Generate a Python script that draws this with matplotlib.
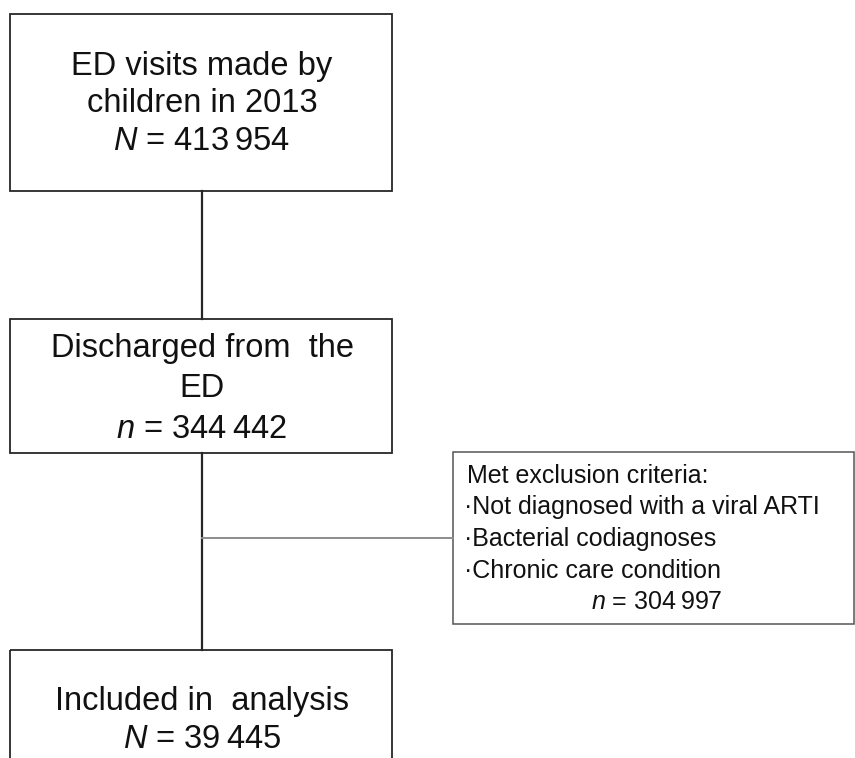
import matplotlib.pyplot as plt
from matplotlib.patches import Rectangle

plt.rcParams['font.family'] = ['Liberation Sans', 'DejaVu Sans']
plt.rcParams['mathtext.fontset'] = 'custom'
plt.rcParams['mathtext.it'] = 'Liberation Sans:italic'
plt.rcParams['mathtext.rm'] = 'Liberation Sans'

# flow steps
step_titles = [["ED visits made by", "children in 2013"],
               ["Discharged from  the", "ED"],
               ["Included in  analysis"]]
step_symbols = ["N", "n", "N"]
step_counts = ["413\u2009954", "344\u2009442", "39\u2009445"]

excl_title = "Met exclusion criteria:"
excl_items = ["Not diagnosed with a viral ARTI", "Bacterial codiagnoses", "Chronic care condition"]
excl_symbol = "n"
excl_count = "304\u2009997"

fig = plt.figure(figsize=(8.55, 7.58), dpi=100)
ax = fig.add_axes([0, 0, 1, 1])
ax.set_xlim(0, 855)
ax.set_ylim(758, 0)
ax.axis('off')

# box geometry (top, bottom) in pixels and text baselines
boxes = [(14, 191), (319, 453), (650, 800)]
baselines = [[75, 112, 150], [357, 397, 438], [710, 748]]
bx0, bx1 = 10, 392
cx = 202
edge = '#262626'

for (top, bot), ys, title, sym, cnt in zip(boxes, baselines, step_titles, step_symbols, step_counts):
    ax.add_patch(Rectangle((bx0, top), bx1 - bx0, bot - top, fill=False, ec=edge, lw=1.3))
    lines = title + [r"$\mathit{%s}$ = %s" % (sym, cnt)]
    for y, s in zip(ys, lines):
        ax.text(cx, y, s, ha='center', va='baseline', fontsize=23.5, color='#111111')

# connectors
ax.plot([cx, cx], [191, 319], color=edge, lw=1.6)
ax.plot([cx, cx], [453, 650], color=edge, lw=1.6)
ax.plot([cx, 453], [538, 538], color='#8c8c8c', lw=1.4)

# exclusion box
ax.add_patch(Rectangle((453, 452), 401, 172, fill=False, ec='#555555', lw=1.1))
ax.text(467, 483, excl_title, ha='left', va='baseline', fontsize=18, color='#111111')
for i, item in enumerate(excl_items):
    ax.text(464, 514 + 32 * i, "\u00b7" + item, ha='left', va='baseline', fontsize=18, color='#111111')
ax.text(657, 609, r"$\mathit{%s}$ = %s" % (excl_symbol, excl_count), ha='center', va='baseline',
        fontsize=18, color='#111111')

fig.savefig('out.png', dpi=100)
